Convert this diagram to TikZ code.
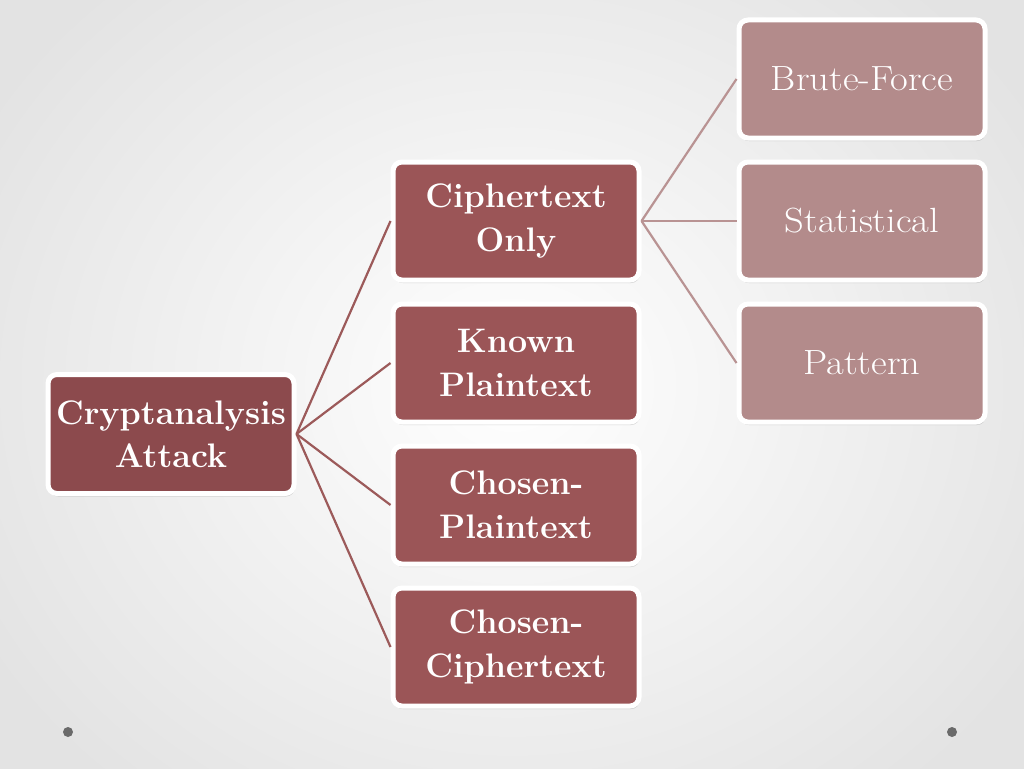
\documentclass[tikz,border=0pt]{standalone}
\usepackage{fontspec}
\usetikzlibrary{shadows,shadings}
\newfontfamily\leaffont[FakeStretch=1.1]{Latin Modern Roman}
\definecolor{darkbox}{HTML}{8C4A4D}
\definecolor{midbox}{HTML}{9B5557}
\definecolor{lightbox}{HTML}{B38B8B}
\definecolor{darkline}{HTML}{9C5A5A}
\definecolor{lightline}{HTML}{B99393}
\definecolor{dotgray}{HTML}{6A6A6A}
\tikzset{
  box/.style={draw=white, line width=5pt, rounded corners=9pt, minimum width=246pt, minimum height=118pt,
    text=white, align=center, inner sep=0pt,
    drop shadow={shadow xshift=1pt, shadow yshift=-3pt, opacity=0.25, fill=black!60}},
  rootbox/.style={box, fill=darkbox, font=\fontsize{34}{43}\selectfont\bfseries},
  midnode/.style={box, fill=midbox, font=\fontsize{34}{44}\selectfont\bfseries},
  leafnode/.style={box, fill=lightbox, font=\leaffont\fontsize{35}{40}\selectfont},
  darkconn/.style={draw=darkline, line width=2.2pt},
  lightconn/.style={draw=lightline, line width=2.2pt},
}
\begin{document}
\begin{tikzpicture}[x=1pt,y=-1pt]
\useasboundingbox (0,0) rectangle (1024,768);
\begin{scope}
\clip (0,0) rectangle (1024,768);
\shade[inner color=white, outer color=black!11] (-100,-150) rectangle (1124,918);
\end{scope}
\node[rootbox, minimum height=119pt] (root) at (171,434) {Cryptanalysis\\Attack};
\node[midnode] (c1) at (516,221) {Ciphertext\\Only};
\node[midnode] (c2) at (516,363) {Known\\Plaintext};
\node[midnode] (c3) at (516,505) {Chosen-\\Plaintext};
\node[midnode] (c4) at (516,647) {Chosen-\\Ciphertext};
\node[leafnode] (l1) at (862,79) {Brute-Force};
\node[leafnode] (l2) at (862,221) {Statistical};
\node[leafnode] (l3) at (862,363) {Pattern};
\draw[darkconn] (root.east) -- (c1.west);
\draw[darkconn] (root.east) -- (c2.west);
\draw[darkconn] (root.east) -- (c3.west);
\draw[darkconn] (root.east) -- (c4.west);
\draw[lightconn] (c1.east) -- (l1.west);
\draw[lightconn] (c1.east) -- (l2.west);
\draw[lightconn] (c1.east) -- (l3.west);
\fill[dotgray] (68,732) circle (5pt) coordinate (dl);
\fill[dotgray] (952,732) circle (5pt) coordinate (dr);
\end{tikzpicture}
\end{document}
